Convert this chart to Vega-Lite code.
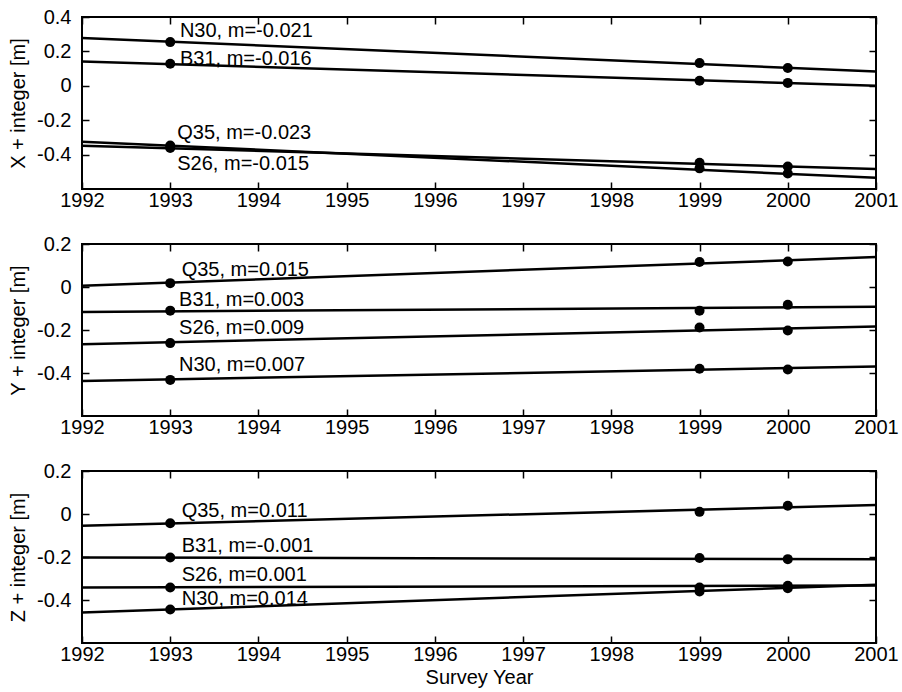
{
  "$schema": "https://vega.github.io/schema/vega-lite/v6.json",
  "padding": {"left": 7, "top": 6, "right": 0, "bottom": 2},
  "background": "white",
  "config": {
    "font": "Liberation Sans",
    "view": {"stroke": "black", "strokeWidth": 2},
    "axis": {
      "labelFont": "Liberation Sans", "titleFont": "Liberation Sans",
      "labelFontSize": 20, "titleFontSize": 20, "titleFontWeight": "normal",
      "labelColor": "black", "titleColor": "black",
      "tickColor": "black", "tickWidth": 1.5, "tickSize": -7,
      "domain": false, "grid": false
    },
    "axisX": {"labelPadding": 8, "titlePadding": 3},
    "axisY": {"labelPadding": 18, "titlePadding": 8},
    "text": {"font": "Liberation Sans", "fontSize": 20, "color": "black"}
  },
  "datasets": {
    "fit": [
      {"comp": "X", "station": "N30", "year": 1992, "value": 0.278},
      {"comp": "X", "station": "N30", "year": 2001, "value": 0.083},
      {"comp": "X", "station": "B31", "year": 1992, "value": 0.142},
      {"comp": "X", "station": "B31", "year": 2001, "value": 0.0},
      {"comp": "X", "station": "Q35", "year": 1992, "value": -0.325},
      {"comp": "X", "station": "Q35", "year": 2001, "value": -0.535},
      {"comp": "X", "station": "S26", "year": 1992, "value": -0.348},
      {"comp": "X", "station": "S26", "year": 2001, "value": -0.484},
      {"comp": "Y", "station": "Q35", "year": 1992, "value": 0.006},
      {"comp": "Y", "station": "Q35", "year": 2001, "value": 0.139},
      {"comp": "Y", "station": "B31", "year": 1992, "value": -0.116},
      {"comp": "Y", "station": "B31", "year": 2001, "value": -0.092},
      {"comp": "Y", "station": "S26", "year": 1992, "value": -0.266},
      {"comp": "Y", "station": "S26", "year": 2001, "value": -0.184},
      {"comp": "Y", "station": "N30", "year": 1992, "value": -0.437},
      {"comp": "Y", "station": "N30", "year": 2001, "value": -0.370},
      {"comp": "Z", "station": "Q35", "year": 1992, "value": -0.055},
      {"comp": "Z", "station": "Q35", "year": 2001, "value": 0.042},
      {"comp": "Z", "station": "B31", "year": 1992, "value": -0.202},
      {"comp": "Z", "station": "B31", "year": 2001, "value": -0.211},
      {"comp": "Z", "station": "S26", "year": 1992, "value": -0.342},
      {"comp": "Z", "station": "S26", "year": 2001, "value": -0.333},
      {"comp": "Z", "station": "N30", "year": 1992, "value": -0.458},
      {"comp": "Z", "station": "N30", "year": 2001, "value": -0.329}
    ],
    "obs": [
      {"comp": "X", "station": "N30", "year": 1993, "value": 0.254},
      {"comp": "X", "station": "N30", "year": 1999, "value": 0.132},
      {"comp": "X", "station": "N30", "year": 2000, "value": 0.103},
      {"comp": "X", "station": "B31", "year": 1993, "value": 0.128},
      {"comp": "X", "station": "B31", "year": 1999, "value": 0.029},
      {"comp": "X", "station": "B31", "year": 2000, "value": 0.017},
      {"comp": "X", "station": "Q35", "year": 1993, "value": -0.347},
      {"comp": "X", "station": "Q35", "year": 1999, "value": -0.480},
      {"comp": "X", "station": "Q35", "year": 2000, "value": -0.510},
      {"comp": "X", "station": "S26", "year": 1993, "value": -0.362},
      {"comp": "X", "station": "S26", "year": 1999, "value": -0.447},
      {"comp": "X", "station": "S26", "year": 2000, "value": -0.469},
      {"comp": "Y", "station": "Q35", "year": 1993, "value": 0.018},
      {"comp": "Y", "station": "Q35", "year": 1999, "value": 0.116},
      {"comp": "Y", "station": "Q35", "year": 2000, "value": 0.119},
      {"comp": "Y", "station": "B31", "year": 1993, "value": -0.110},
      {"comp": "Y", "station": "B31", "year": 1999, "value": -0.110},
      {"comp": "Y", "station": "B31", "year": 2000, "value": -0.083},
      {"comp": "Y", "station": "S26", "year": 1993, "value": -0.261},
      {"comp": "Y", "station": "S26", "year": 1999, "value": -0.188},
      {"comp": "Y", "station": "S26", "year": 2000, "value": -0.202},
      {"comp": "Y", "station": "N30", "year": 1993, "value": -0.432},
      {"comp": "Y", "station": "N30", "year": 1999, "value": -0.380},
      {"comp": "Y", "station": "N30", "year": 2000, "value": -0.384},
      {"comp": "Z", "station": "Q35", "year": 1993, "value": -0.043},
      {"comp": "Z", "station": "Q35", "year": 1999, "value": 0.010},
      {"comp": "Z", "station": "Q35", "year": 2000, "value": 0.038},
      {"comp": "Z", "station": "B31", "year": 1993, "value": -0.202},
      {"comp": "Z", "station": "B31", "year": 1999, "value": -0.205},
      {"comp": "Z", "station": "B31", "year": 2000, "value": -0.210},
      {"comp": "Z", "station": "S26", "year": 1993, "value": -0.342},
      {"comp": "Z", "station": "S26", "year": 1999, "value": -0.342},
      {"comp": "Z", "station": "S26", "year": 2000, "value": -0.334},
      {"comp": "Z", "station": "N30", "year": 1993, "value": -0.444},
      {"comp": "Z", "station": "N30", "year": 1999, "value": -0.360},
      {"comp": "Z", "station": "N30", "year": 2000, "value": -0.345}
    ],
    "labels": [
      {"comp": "X", "station": "N30", "label": "N30, m=-0.021", "year": 1993.11, "value": 0.282},
      {"comp": "X", "station": "B31", "label": "B31, m=-0.016", "year": 1993.11, "value": 0.122},
      {"comp": "X", "station": "Q35", "label": "Q35, m=-0.023", "year": 1993.08, "value": -0.311},
      {"comp": "X", "station": "S26", "label": "S26, m=-0.015", "year": 1993.08, "value": -0.49},
      {"comp": "Y", "station": "Q35", "label": "Q35, m=0.015", "year": 1993.13, "value": 0.049},
      {"comp": "Y", "station": "B31", "label": "B31, m=0.003", "year": 1993.1, "value": -0.09},
      {"comp": "Y", "station": "S26", "label": "S26, m=0.009", "year": 1993.1, "value": -0.22},
      {"comp": "Y", "station": "N30", "label": "N30, m=0.007", "year": 1993.1, "value": -0.393},
      {"comp": "Z", "station": "Q35", "label": "Q35, m=0.011", "year": 1993.13, "value": -0.012},
      {"comp": "Z", "station": "B31", "label": "B31, m=-0.001", "year": 1993.13, "value": -0.179},
      {"comp": "Z", "station": "S26", "label": "S26, m=0.001", "year": 1993.13, "value": -0.31},
      {"comp": "Z", "station": "N30", "label": "N30, m=0.014", "year": 1993.13, "value": -0.422}
    ]
  },
  "bounds": "flush",
  "spacing": 55,
  "vconcat": [
    {
      "width": 794, "height": 172,
      "resolve": {"axis": {"x": "independent", "y": "independent"}},
      "layer": [
        {
          "data": {"name": "fit"},
          "transform": [{"filter": "datum.comp === 'X'"}],
          "mark": {"type": "line", "color": "black", "strokeWidth": 2.5},
          "encoding": {
            "x": {"field": "year", "type": "quantitative", "scale": {"domain": [1992, 2001], "nice": false, "zero": false},
                  "axis": {"orient": "bottom", "values": [1992,1993,1994,1995,1996,1997,1998,1999,2000,2001], "format": "d", "title": null, "labelFlush": false}},
            "y": {"field": "value", "type": "quantitative", "scale": {"domain": [-0.6, 0.4], "nice": false, "zero": false},
                  "axis": {"orient": "left", "values": [-0.4,-0.2,0,0.2,0.4], "labelExpr": "toString(datum.value)", "title": "X + integer [m]", "labelFlush": false}},
            "detail": {"field": "station"}
          }
        },
        {
          "data": {"name": "obs"},
          "transform": [{"filter": "datum.comp === 'X'"}],
          "mark": {"type": "circle", "color": "black", "size": 100, "opacity": 1},
          "encoding": {
            "x": {"field": "year", "type": "quantitative", "scale": {"domain": [1992, 2001], "nice": false, "zero": false},
                  "axis": {"orient": "top", "values": [1992,1993,1994,1995,1996,1997,1998,1999,2000,2001], "labels": false, "title": null}},
            "y": {"field": "value", "type": "quantitative", "scale": {"domain": [-0.6, 0.4], "nice": false, "zero": false},
                  "axis": {"orient": "right", "values": [-0.4,-0.2,0,0.2,0.4], "labels": false, "title": null}}
          }
        },
        {
          "data": {"name": "labels"},
          "transform": [{"filter": "datum.comp === 'X'"}],
          "mark": {"type": "text", "align": "left", "baseline": "alphabetic", "fontSize": 20},
          "encoding": {
            "x": {"field": "year", "type": "quantitative", "scale": {"domain": [1992, 2001], "nice": false, "zero": false}, "axis": null},
            "y": {"field": "value", "type": "quantitative", "scale": {"domain": [-0.6, 0.4], "nice": false, "zero": false}, "axis": null},
            "text": {"field": "label"}
          }
        }
      ]
    },
    {
      "width": 794, "height": 172,
      "resolve": {"axis": {"x": "independent", "y": "independent"}},
      "layer": [
        {
          "data": {"name": "fit"},
          "transform": [{"filter": "datum.comp === 'Y'"}],
          "mark": {"type": "line", "color": "black", "strokeWidth": 2.5},
          "encoding": {
            "x": {"field": "year", "type": "quantitative", "scale": {"domain": [1992, 2001], "nice": false, "zero": false},
                  "axis": {"orient": "bottom", "values": [1992,1993,1994,1995,1996,1997,1998,1999,2000,2001], "format": "d", "title": null, "labelFlush": false}},
            "y": {"field": "value", "type": "quantitative", "scale": {"domain": [-0.6, 0.2], "nice": false, "zero": false},
                  "axis": {"orient": "left", "values": [-0.4,-0.2,0,0.2], "labelExpr": "toString(datum.value)", "title": "Y + integer [m]", "labelFlush": false}},
            "detail": {"field": "station"}
          }
        },
        {
          "data": {"name": "obs"},
          "transform": [{"filter": "datum.comp === 'Y'"}],
          "mark": {"type": "circle", "color": "black", "size": 100, "opacity": 1},
          "encoding": {
            "x": {"field": "year", "type": "quantitative", "scale": {"domain": [1992, 2001], "nice": false, "zero": false},
                  "axis": {"orient": "top", "values": [1992,1993,1994,1995,1996,1997,1998,1999,2000,2001], "labels": false, "title": null}},
            "y": {"field": "value", "type": "quantitative", "scale": {"domain": [-0.6, 0.2], "nice": false, "zero": false},
                  "axis": {"orient": "right", "values": [-0.4,-0.2,0,0.2], "labels": false, "title": null}}
          }
        },
        {
          "data": {"name": "labels"},
          "transform": [{"filter": "datum.comp === 'Y'"}],
          "mark": {"type": "text", "align": "left", "baseline": "alphabetic", "fontSize": 20},
          "encoding": {
            "x": {"field": "year", "type": "quantitative", "scale": {"domain": [1992, 2001], "nice": false, "zero": false}, "axis": null},
            "y": {"field": "value", "type": "quantitative", "scale": {"domain": [-0.6, 0.2], "nice": false, "zero": false}, "axis": null},
            "text": {"field": "label"}
          }
        }
      ]
    },
    {
      "width": 794, "height": 172,
      "resolve": {"axis": {"x": "independent", "y": "independent"}},
      "layer": [
        {
          "data": {"name": "fit"},
          "transform": [{"filter": "datum.comp === 'Z'"}],
          "mark": {"type": "line", "color": "black", "strokeWidth": 2.5},
          "encoding": {
            "x": {"field": "year", "type": "quantitative", "scale": {"domain": [1992, 2001], "nice": false, "zero": false},
                  "axis": {"orient": "bottom", "values": [1992,1993,1994,1995,1996,1997,1998,1999,2000,2001], "format": "d", "title": "Survey Year", "labelFlush": false}},
            "y": {"field": "value", "type": "quantitative", "scale": {"domain": [-0.6, 0.2], "nice": false, "zero": false},
                  "axis": {"orient": "left", "values": [-0.4,-0.2,0,0.2], "labelExpr": "toString(datum.value)", "title": "Z + integer [m]", "labelFlush": false}},
            "detail": {"field": "station"}
          }
        },
        {
          "data": {"name": "obs"},
          "transform": [{"filter": "datum.comp === 'Z'"}],
          "mark": {"type": "circle", "color": "black", "size": 100, "opacity": 1},
          "encoding": {
            "x": {"field": "year", "type": "quantitative", "scale": {"domain": [1992, 2001], "nice": false, "zero": false},
                  "axis": {"orient": "top", "values": [1992,1993,1994,1995,1996,1997,1998,1999,2000,2001], "labels": false, "title": null}},
            "y": {"field": "value", "type": "quantitative", "scale": {"domain": [-0.6, 0.2], "nice": false, "zero": false},
                  "axis": {"orient": "right", "values": [-0.4,-0.2,0,0.2], "labels": false, "title": null}}
          }
        },
        {
          "data": {"name": "labels"},
          "transform": [{"filter": "datum.comp === 'Z'"}],
          "mark": {"type": "text", "align": "left", "baseline": "alphabetic", "fontSize": 20},
          "encoding": {
            "x": {"field": "year", "type": "quantitative", "scale": {"domain": [1992, 2001], "nice": false, "zero": false}, "axis": null},
            "y": {"field": "value", "type": "quantitative", "scale": {"domain": [-0.6, 0.2], "nice": false, "zero": false}, "axis": null},
            "text": {"field": "label"}
          }
        }
      ]
    }
  ]
}
